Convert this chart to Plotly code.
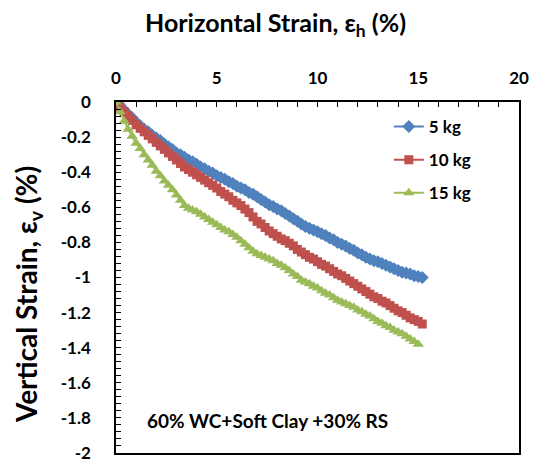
import plotly.graph_objects as go

# Horizontal strain readings (%)
strain_h = [0.0, 0.2, 0.4, 0.6, 0.8, 1.0, 1.2, 1.4, 1.6, 1.8,
            2.0, 2.2, 2.4, 2.6, 2.8, 3.0, 3.2, 3.4, 3.6, 3.8,
            4.0, 4.2, 4.4, 4.6, 4.8, 5.0, 5.2, 5.4, 5.6, 5.8,
            6.0, 6.2, 6.4, 6.6, 6.8, 7.0, 7.2, 7.4, 7.6, 7.8,
            8.0, 8.2, 8.4, 8.6, 8.8, 9.0, 9.2, 9.4, 9.6, 9.8,
            10.0, 10.2, 10.4, 10.6, 10.8, 11.0, 11.2, 11.4, 11.6, 11.8,
            12.0, 12.2, 12.4, 12.6, 12.8, 13.0, 13.2, 13.4, 13.6, 13.8,
            14.0, 14.2, 14.4, 14.6, 14.8, 15.0, 15.2]

# Vertical strain readings (%) for each surcharge load
strain_v_5kg = [0.0, -0.02, -0.045, -0.07, -0.09, -0.115, -0.135, -0.155, -0.17, -0.19,
                -0.205, -0.22, -0.24, -0.255, -0.27, -0.29, -0.30, -0.315, -0.33, -0.34,
                -0.355, -0.37, -0.38, -0.395, -0.405, -0.42, -0.43, -0.44, -0.455, -0.465,
                -0.48, -0.49, -0.50, -0.515, -0.525, -0.54, -0.555, -0.57, -0.585, -0.595,
                -0.61, -0.62, -0.635, -0.65, -0.665, -0.68, -0.695, -0.71, -0.72, -0.73,
                -0.74, -0.75, -0.76, -0.775, -0.785, -0.80, -0.81, -0.82, -0.835, -0.845,
                -0.86, -0.87, -0.885, -0.895, -0.905, -0.91, -0.92, -0.93, -0.94, -0.95,
                -0.96, -0.97, -0.975, -0.98, -0.99, -0.995, -1.0]

strain_v_10kg = [-0.01, -0.03, -0.055, -0.08, -0.105, -0.13, -0.15, -0.17, -0.19, -0.21,
                 -0.23, -0.25, -0.27, -0.29, -0.31, -0.33, -0.35, -0.37, -0.385, -0.40,
                 -0.415, -0.43, -0.445, -0.46, -0.475, -0.49, -0.51, -0.525, -0.54, -0.56,
                 -0.575, -0.59, -0.61, -0.63, -0.655, -0.68, -0.695, -0.715, -0.735, -0.75,
                 -0.765, -0.78, -0.79, -0.805, -0.82, -0.84, -0.855, -0.87, -0.885, -0.895,
                 -0.91, -0.925, -0.935, -0.95, -0.965, -0.98, -0.99, -1.005, -1.02, -1.035,
                 -1.05, -1.065, -1.08, -1.095, -1.11, -1.12, -1.135, -1.145, -1.16, -1.175,
                 -1.19, -1.20, -1.215, -1.23, -1.24, -1.25, -1.265]

strain_v_15kg = [0.0, -0.055, -0.11, -0.155, -0.195, -0.235, -0.265, -0.30, -0.33, -0.36,
                 -0.395, -0.42, -0.45, -0.475, -0.50, -0.53, -0.56, -0.59, -0.605, -0.615,
                 -0.625, -0.64, -0.655, -0.67, -0.685, -0.70, -0.715, -0.73, -0.74, -0.755,
                 -0.77, -0.79, -0.81, -0.83, -0.85, -0.865, -0.875, -0.885, -0.895, -0.905,
                 -0.92, -0.93, -0.945, -0.96, -0.98, -0.995, -1.015, -1.025, -1.035, -1.05,
                 -1.06, -1.075, -1.09, -1.10, -1.115, -1.13, -1.14, -1.15, -1.16, -1.17,
                 -1.185, -1.195, -1.21, -1.22, -1.235, -1.25, -1.26, -1.275, -1.285, -1.30,
                 -1.31, -1.32, -1.335, -1.35, -1.365, -1.38]

series_names = ["5 kg", "10 kg", "15 kg"]
series_values = [strain_v_5kg, strain_v_10kg, strain_v_15kg]
series_colors = ["#4F81BD", "#C0504D", "#9BBB59"]
series_symbols = ["diamond", "square", "triangle-up"]
series_sizes = [10, 9, 10]

x_ticks = [0, 5, 10, 15, 20]
y_ticks = [0, -0.2, -0.4, -0.6, -0.8, -1, -1.2, -1.4, -1.6, -1.8, -2]

FONT = "Lato"


def bold_font(size):
    return dict(family=FONT, size=size, color="black", weight="bold")


fig = go.Figure()
for name, vals, color, sym, size in zip(series_names, series_values, series_colors,
                                        series_symbols, series_sizes):
    fig.add_trace(go.Scatter(
        x=strain_h[:len(vals)], y=vals, name=name, legendgroup=name,
        mode="lines+markers",
        line=dict(color=color, width=2),
        marker=dict(symbol=sym, size=size, color=color),
    ))

axis_common = dict(
    showline=True, linecolor="black", linewidth=1.5, mirror=True,
    showgrid=False, zeroline=False, automargin=False,
    ticks="inside", ticklen=5, tickwidth=1.3, tickcolor="black",
    tickfont=bold_font(17), ticklabeloverflow="allow",
)
minor_ticks = dict(ticks="inside", ticklen=5, tickwidth=1.3, tickcolor="black")

fig.update_xaxes(
    range=[0, 20], side="top", tickvals=x_ticks, ticktext=[str(v) for v in x_ticks],
    ticklabelstandoff=9,
    minor=dict(dtick=1, **minor_ticks),
    **axis_common,
)
fig.update_yaxes(
    range=[-2, 0], tickvals=y_ticks, ticktext=[f"{v:g}" for v in y_ticks],
    ticklabelstandoff=20,
    minor=dict(dtick=0.04, **minor_ticks),
    **axis_common,
)

fig.add_annotation(
    text="Horizontal Strain, ε<sub>h</sub> (%)", xref="paper", yref="paper",
    x=0.397, y=1.0, yshift=78, xanchor="center", yanchor="middle", showarrow=False,
    font=bold_font(25),
)
fig.add_annotation(
    text="Vertical Strain, ε<sub>v</sub> (%)", xref="paper", yref="paper",
    x=0.0, y=0.45, xshift=-88, xanchor="center", yanchor="middle", textangle=-90,
    showarrow=False,
    font=bold_font(28),
)
fig.add_annotation(
    text="60% WC+Soft Clay +30% RS", xref="paper", yref="paper",
    x=0.377, y=0.093, xanchor="center", yanchor="middle", showarrow=False,
    font=bold_font(19),
)

fig.update_layout(
    width=533, height=464,
    margin=dict(l=116, r=14, t=102, b=11),
    paper_bgcolor="white", plot_bgcolor="white",
    showlegend=True,
    legend=dict(
        x=0.677, y=0.98, xanchor="left", yanchor="top",
        font=bold_font(17),
        tracegroupgap=8, bgcolor="rgba(0,0,0,0)",
    ),
)

fig.write_html("out.html")
